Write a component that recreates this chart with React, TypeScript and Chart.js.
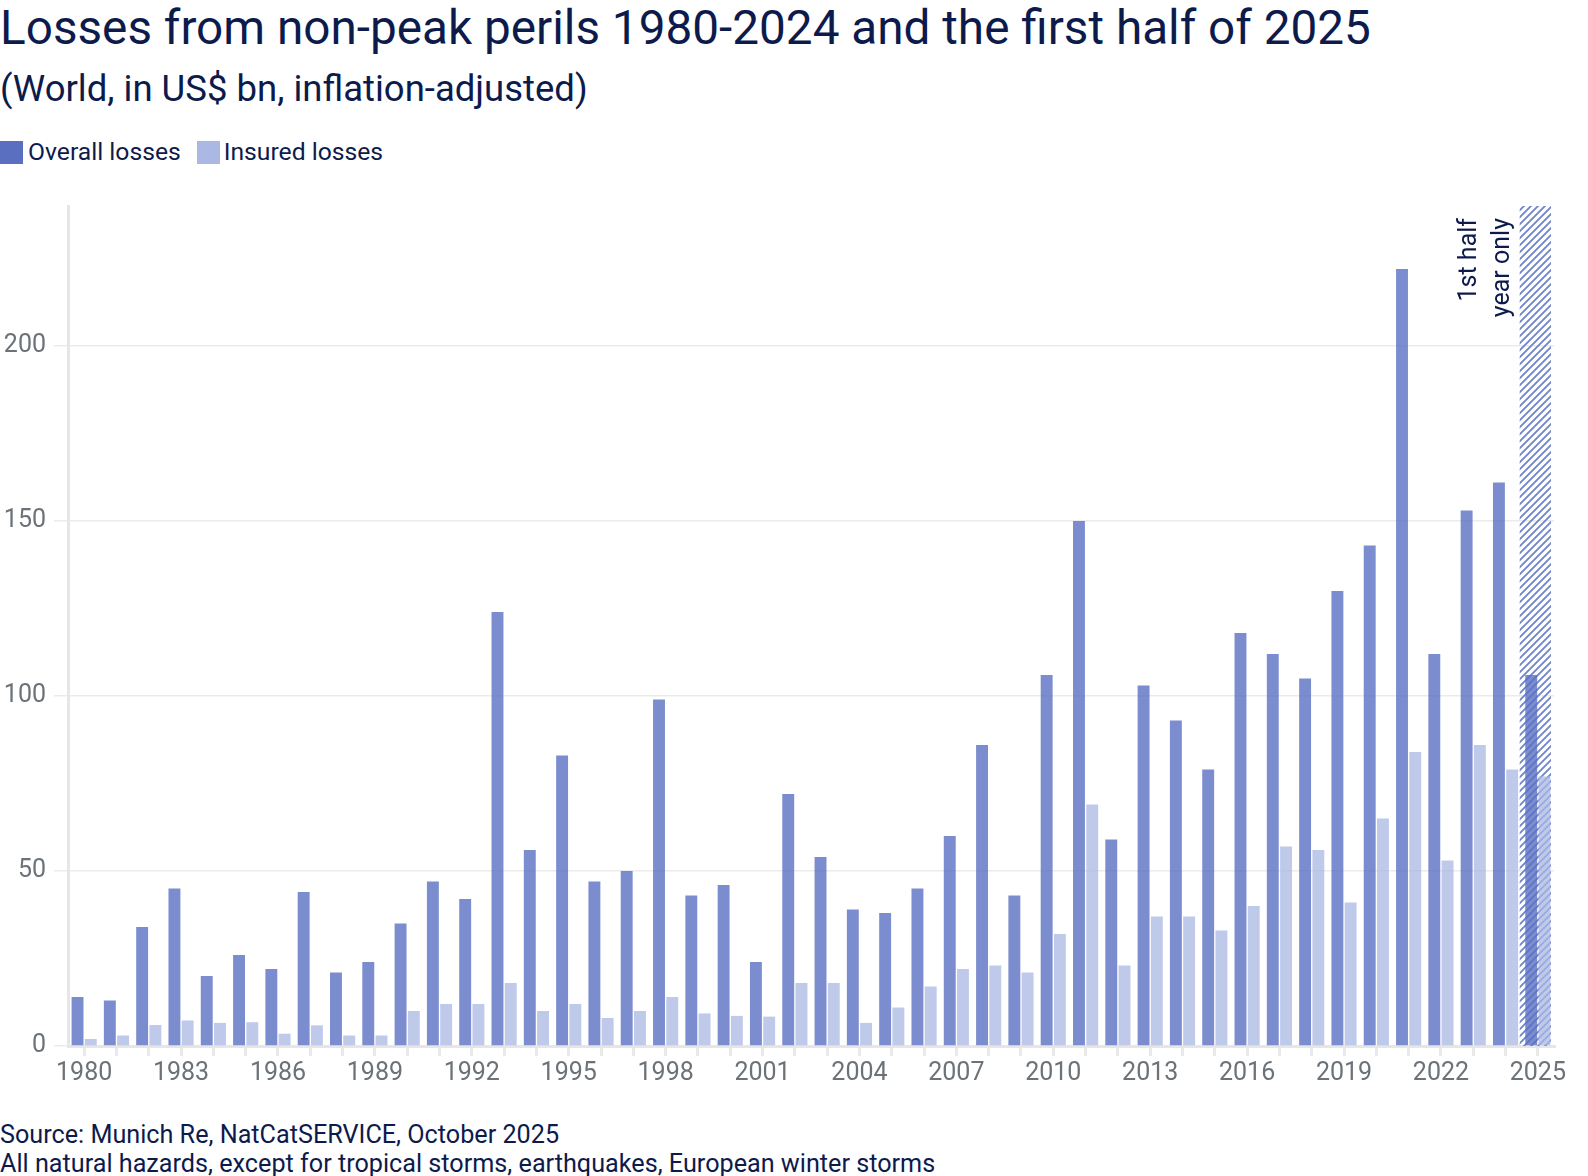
import { useEffect, useRef } from "react";
import { Chart, registerables } from "chart.js";

Chart.register(...registerables);

const years = [
  "1980", "1981", "1982", "1983", "1984", "1985", "1986", "1987", "1988", "1989",
  "1990", "1991", "1992", "1993", "1994", "1995", "1996", "1997", "1998", "1999",
  "2000", "2001", "2002", "2003", "2004", "2005", "2006", "2007", "2008", "2009",
  "2010", "2011", "2012", "2013", "2014", "2015", "2016", "2017", "2018", "2019",
  "2020", "2021", "2022", "2023", "2024", "2025",
];

const overallLosses = [
  14, 13, 34, 45, 20, 26, 22, 44, 21, 24,
  35, 47, 42, 124, 56, 83, 47, 50, 99, 43,
  46, 24, 72, 54, 39, 38, 45, 60, 86, 43,
  106, 150, 59, 103, 93, 79, 118, 112, 105, 130,
  143, 222, 112, 153, 161, 106,
];

const insuredLosses = [
  2, 3, 6, 7.3, 6.6, 6.8, 3.5, 5.9, 3, 3,
  10, 12, 12, 18, 10, 12, 8, 10, 14, 9.3,
  8.6, 8.4, 18, 18, 6.6, 11, 17, 22, 23, 21,
  32, 69, 23, 37, 37, 33, 40, 57, 56, 41,
  65, 84, 53, 86, 79, 77,
];

const yTicks = [0, 50, 100, 150, 200];
const partialYear = "2025";
const partialNote = ["1st half", "year only"];

const FONT = "Roboto, 'Noto Sans', sans-serif";
const NAVY = "#0d1b4c";
const GREY = "#6b7278";

const hatchPlugin = {
  id: "hatch",
  beforeDatasetsDraw(chart: any) {
    const { ctx, chartArea, scales } = chart;
    const x = scales.x;
    const idx = years.indexOf(partialYear);
    const step = x.getPixelForValue(1) - x.getPixelForValue(0);
    const left = x.getPixelForValue(idx) - step / 2 - 2;

    const s = 7;
    const pc = document.createElement("canvas");
    pc.width = s;
    pc.height = s;
    const p = pc.getContext("2d")!;
    p.strokeStyle = "#6f83cb";
    p.lineWidth = 1.8;
    p.beginPath();
    p.moveTo(0, s);
    p.lineTo(s, 0);
    p.moveTo(-1, 1);
    p.lineTo(1, -1);
    p.moveTo(s - 1, s + 1);
    p.lineTo(s + 1, s - 1);
    p.stroke();

    ctx.save();
    ctx.fillStyle = ctx.createPattern(pc, "repeat");
    ctx.fillRect(left, chartArea.top, step - 1, chartArea.bottom - chartArea.top);

    // note next to the hatched year
    ctx.translate(left - 50, chartArea.top + 12);
    ctx.rotate(-Math.PI / 2);
    ctx.fillStyle = NAVY;
    ctx.font = `25px ${FONT}`;
    ctx.textAlign = "right";
    ctx.textBaseline = "middle";
    partialNote.forEach((line, i) => ctx.fillText(line, 0, i * 33));
    ctx.restore();
  },
};

export default function App() {
  const chartRef = useRef<HTMLCanvasElement>(null);
  const chartInstance = useRef<Chart | null>(null);

  useEffect(() => {
    if (!chartRef.current) return;
    if (chartInstance.current) chartInstance.current.destroy();
    const ctx = chartRef.current.getContext("2d");
    if (!ctx) return;

    chartInstance.current = new Chart(ctx, {
      type: "bar",
      data: {
        labels: years,
        datasets: [
          {
            label: "Overall losses",
            data: overallLosses,
            backgroundColor: "rgba(90,112,194,0.8)",
            categoryPercentage: 0.82,
            barPercentage: 0.9,
          },
          {
            label: "Insured losses",
            data: insuredLosses,
            backgroundColor: "rgba(170,184,228,0.75)",
            categoryPercentage: 0.82,
            barPercentage: 0.9,
          },
        ],
      },
      options: {
        responsive: true,
        maintainAspectRatio: false,
        animation: false,
        layout: { padding: { top: 0, right: 34, left: 0, bottom: 0 } },
        plugins: {
          legend: { display: false },
          tooltip: { enabled: false },
        },
        scales: {
          x: {
            grid: {
              display: true,
              drawOnChartArea: false,
              drawTicks: true,
              tickLength: 10,
              offset: false,
              color: "#e9e9e9",
              lineWidth: 3,
            },
            border: { display: true, color: "#e6e6e6", width: 3 },
            ticks: {
              autoSkip: false,
              maxRotation: 0,
              padding: 3,
              color: GREY,
              font: { family: FONT, size: 25 },
              callback: (_v: any, i: number) => (i % 3 === 0 ? years[i] : ""),
            },
            afterFit(scale: any) {
              scale.height = 45;
            },
          },
          y: {
            min: 0,
            max: 240,
            grid: {
              color: "#ebebeb",
              lineWidth: 1.5,
              tickLength: 14,
              drawTicks: true,
            },
            border: { display: true, color: "#e6e6e6", width: 3 },
            ticks: {
              stepSize: 50,
              includeBounds: false,
              padding: 8,
              color: GREY,
              font: { family: FONT, size: 25 },
              callback: (v: any) => (yTicks.includes(Number(v)) ? String(v) : ""),
            },
            afterFit(scale: any) {
              scale.width = 68;
            },
          },
        },
      },
      plugins: [hatchPlugin],
    });

    return () => {
      if (chartInstance.current) {
        chartInstance.current.destroy();
        chartInstance.current = null;
      }
    };
  }, []);

  return (
    <div
      style={{
        position: "absolute",
        left: 0,
        top: 0,
        width: 1588,
        height: 1176,
        background: "#fff",
        fontFamily: FONT,
        color: NAVY,
      }}
    >
      <div style={{ position: "absolute", left: 0, top: 0, fontSize: 47.7, lineHeight: "56px", whiteSpace: "nowrap" }}>
        Losses from non-peak perils 1980-2024 and the first half of 2025
      </div>
      <div style={{ position: "absolute", left: 0, top: 68, fontSize: 36.5, lineHeight: "42px", whiteSpace: "nowrap" }}>
        (World, in US$ bn, inflation-adjusted)
      </div>
      <div style={{ position: "absolute", left: 0, top: 137, fontSize: 24.7, lineHeight: "30px", display: "flex", alignItems: "center" }}>
        <span style={{ display: "inline-block", width: 23, height: 23, background: "#5a6fc0", marginRight: 5 }} />
        <span style={{ marginRight: 16 }}>Overall losses</span>
        <span style={{ display: "inline-block", width: 23, height: 23, background: "#abb8e3", marginRight: 4 }} />
        <span>Insured losses</span>
      </div>
      <div style={{ position: "absolute", left: 0, top: 183, width: 1588, height: 908 }}>
        <canvas ref={chartRef} />
      </div>
      <div style={{ position: "absolute", left: 0, top: 1120, fontSize: 25.2, lineHeight: "29px", whiteSpace: "nowrap" }}>
        <div>Source: Munich Re, NatCatSERVICE, October 2025</div>
        <div>All natural hazards, except for tropical storms, earthquakes, European winter storms</div>
      </div>
    </div>
  );
}
